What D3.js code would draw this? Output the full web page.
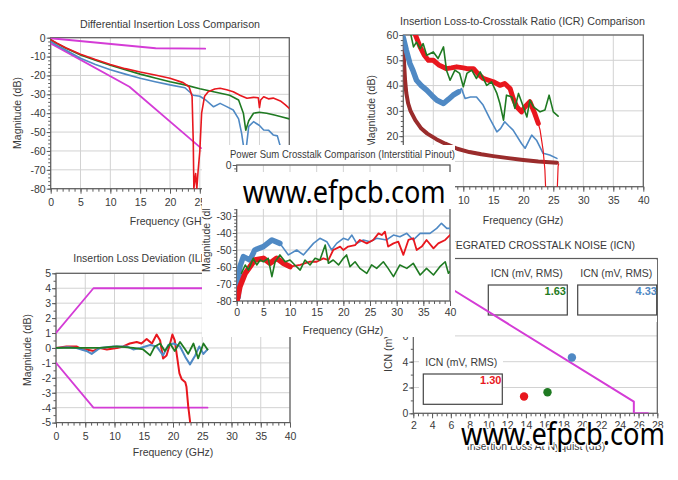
<!DOCTYPE html>
<html><head><meta charset="utf-8">
<script src="https://cdn.jsdelivr.net/npm/d3@7"></script>
<style>body{margin:0;background:#fff}svg{display:block}</style>
</head><body><svg id="c" width="678" height="480"></svg>
<script>
// ---------- DATA ----------
// Differential Insertion Loss (GHz, dB)
const dilRed = [[0,-1],[1,-2.8],[2.5,-5.3],[5,-8.8],[7.5,-11.6],[10,-14.2],[12.5,-16.4],[15,-18.2],[17.5,-19.8],[20,-21.5],[22.2,-23.8],[23.2,-26],[23.7,-31],[23.9,-55],[24.0,-80],[24.3,-72],[24.5,-80],[24.7,-71],[25.0,-60],[25.3,-40],[25.8,-31],[26.4,-28.6],[27.5,-27.2],[28.4,-26.8],[29.5,-27.6],[30.6,-28.6],[31.8,-30.6],[32.9,-32.1],[34,-31.6],[34.8,-31.8],[35,-37],[35.2,-33],[35.7,-31.3],[36.5,-32.4],[37.3,-32],[38.5,-33.5],[39.3,-35.5],[40,-37.4]];
const dilGreen = [[0,-1],[1,-3],[2.5,-5.5],[5,-9.2],[7.5,-12],[10,-14.6],[12.5,-17],[15,-19.3],[17.5,-21.3],[20,-23.3],[22.5,-25],[25,-27],[27.5,-28.8],[30,-30.5],[31.5,-33],[32.3,-40],[32.7,-49],[33.2,-44],[34,-40],[35,-39.5],[36.2,-40],[37.5,-41],[38.8,-42],[40,-43]];
const dilBlue = [[0,-2],[1,-4],[2.5,-6.5],[5,-10.9],[7.5,-14.2],[10,-17],[12.5,-19.3],[15,-21.5],[17.5,-23.3],[20,-25],[22.5,-26.5],[23.9,-30.5],[25,-31],[26,-33],[27.3,-36.6],[28.4,-34.8],[29.5,-36.5],[30.6,-38.3],[31.5,-43],[32,-50.6],[32.4,-59],[32.8,-58],[33.2,-47],[34,-44.5],[35,-46.5],[35.7,-48.9],[36.5,-49],[37.3,-51.5],[38,-52],[38.5,-57.7],[39.3,-62]];
const dilLimitUpper = [[0,-0.3],[17.6,-5.6],[25.9,-5.8]];
const dilLimitLower = [[0,-3],[13.2,-26],[25.2,-58.5]];

// ICR (GHz, dB)
const icrBlueBand = [[0,59],[0.5,54],[1.1,48.7],[1.6,46],[2.2,42.1],[3,40],[3.9,38.2],[4.8,36],[5.6,34.2],[6.7,32.9],[7.5,34.5],[8.3,36.2],[9.2,37.5]];
const icrBlue = [[9.2,37.5],[9.7,38.8],[10.3,34.9],[11.2,35.5],[12.2,35.5],[13.3,32.3],[14.4,27],[15.6,21.7],[16.2,23],[16.9,25.7],[17.6,24],[18.3,22.4],[19.7,17.1],[20.3,15.2],[21.4,20.4],[22.2,18.4],[23.3,13.2],[24.4,12.5],[25.6,11.2]];
const icrRedBand = [[1.7,62],[2.8,55.3],[3.5,52],[4.2,50],[5,50],[6,48],[7.2,46.7],[8,47],[8.9,47.4],[10,47],[10.6,46.7],[11.7,46.7],[12.5,44.5],[13.3,42.8],[15,41.5],[16.1,40.1],[16.9,40.8],[17.8,38.8],[18.3,35],[18.9,31.6],[19.7,29.6],[20.3,31.6],[21.1,33.6],[21.9,29],[22.5,25]];
const icrRed = [[22.5,25],[22.8,22.4],[23.3,14.5],[23.6,6.6],[23.8,-5],[25.6,-5],[25.8,8],[25.9,9]];
const icrGreen = [[1.1,61.9],[1.7,55.3],[2.2,57.2],[2.8,54.6],[3.3,56.6],[3.9,52],[5,53.3],[5.8,50.7],[6.7,55.3],[7.2,46.1],[7.8,42.1],[8.6,46.1],[9.4,44.8],[10,39.5],[10.6,44.8],[11.4,46.1],[12.2,42.8],[12.8,45.4],[13.9,40.1],[14.7,41.5],[15.6,36.9],[16.1,32.9],[16.7,26.3],[17.2,36.2],[18.1,35.5],[18.6,31],[19.2,36.9],[19.7,33.6],[20.6,27.6],[21.1,34.2],[21.7,31.6],[22.8,29.6],[23.6,30.3],[24.3,36.2],[25,29.6],[25.8,27.9]];
const icrLimit = [[0,55.5],[0.15,48],[0.3,42],[0.5,37],[0.8,33],[1.2,30],[2,26.3],[3,23],[4,21],[5.5,18.8],[7,17],[9,15],[11,13.7],[13,12.8],[15,12.1],[17.5,11.3],[20,10.6],[22.5,10],[25.6,9.5]];

// Power Sum Crosstalk (GHz, dB)
const psxtBlueBand = [[0.3,-77.5],[0.6,-59.8],[1.25,-53.9],[2.5,-55.9],[3.4,-50],[5,-48],[6.6,-44.1],[8.1,-46.1]];
const psxtBlue = [[8.1,-46.1],[9.7,-52.9],[11.25,-50],[12.5,-52.9],[14.4,-46.1],[15.6,-43.1],[16.9,-45.1],[17.8,-50],[18.75,-46.1],[20,-43.1],[20.9,-44.1],[21.6,-41.2],[22.5,-46.1],[23.75,-44.1],[25,-45.1],[26.25,-43.1],[28.1,-44.1],[29.4,-41.2],[30.6,-42.2],[31.9,-40.2],[33.1,-44.1],[34.4,-40.2],[36.25,-40.2],[37.5,-37.3],[38.4,-34.3],[39.4,-37.3],[40,-37.3]];
const psxtRedBand = [[0.1,-79.4],[0.6,-71.6],[1.6,-63.7],[2.5,-59.8],[3.4,-55.9],[5,-54.9],[6.25,-57.8],[7.5,-54.9],[8.75,-57.8],[10,-59.8]];
const psxtRed = [[10,-59.8],[11.9,-58.8],[13.75,-56.9],[15,-56.9],[16.25,-54.9],[17.2,-55.9],[18.1,-50],[19.4,-48],[20,-50],[20.9,-48],[22.2,-47.1],[23.1,-44.1],[24.4,-46.1],[25.6,-44.1],[26.6,-40.2],[27.2,-41.2],[27.8,-39.2],[28.4,-48],[29.4,-46.1],[30.3,-45.1],[31.25,-52.9],[32.2,-44.1],[33.1,-43.1],[33.75,-50],[34.7,-48],[35.6,-44.1],[36.9,-49],[37.8,-46.1],[39.1,-44.1],[40,-41.2]];
const psxtGreen = [[0.9,-63.7],[1.6,-58.8],[2.2,-61.8],[3.1,-54.9],[3.75,-58.8],[4.4,-55.9],[5,-56.9],[5.9,-54.9],[6.6,-65.7],[7.2,-56.9],[8.1,-52.9],[9.1,-56.9],[10,-55.9],[10.9,-58.8],[11.9,-61.8],[12.8,-55.9],[13.75,-58.8],[14.7,-54.9],[15.6,-55.9],[16.6,-47.1],[17.2,-57.8],[18.1,-55.9],[19.1,-58.8],[20,-54.9],[20.6,-52.9],[21.25,-59.8],[22.2,-56.9],[23.1,-60.8],[24.4,-63.7],[25.3,-58.8],[26.25,-60.8],[27.5,-56.9],[28.4,-60.8],[29.4,-65.7],[30.6,-58.8],[31.9,-60.8],[33.1,-57.8],[34.4,-64.7],[35.6,-60.8],[36.9,-64.7],[38.1,-59.8],[39.1,-56.9],[39.7,-63.7],[40,-62.7]];

// Insertion Loss Deviation (GHz, dB)
const ildRed = [[0,0],[1.8,0.1],[3.5,0.1],[4.5,-0.1],[5.2,-0.1],[6.4,-0.2],[7.5,0],[8.7,-0.1],[10.4,0],[11.5,0.1],[12.6,0.3],[13.8,0.4],[14.6,0.3],[15.5,0.6],[16.4,0.3],[17.2,0.9],[17.8,0.5],[18.3,-0.7],[18.9,-0.5],[19.5,0.3],[19.9,0.9],[20.3,0.5],[20.7,-0.6],[21.1,-1.7],[21.5,-2.1],[22.1,-2.3],[22.3,-2.6],[22.6,-3.9],[23,-5.2],[23.1,-6]];
const ildBlue = [[0,0],[2,0.05],[3.5,0],[5.2,-0.2],[6.1,-0.4],[7.5,0],[9.8,0.1],[12.1,0.1],[13.2,-0.1],[14.4,0],[16.1,0.2],[17.2,0.1],[18.3,-0.5],[19.2,0.2],[20.1,0.3],[21.2,0.1],[22.1,-0.6],[22.9,-1.1],[23.8,-0.5],[24.5,0.1],[25.2,-0.4],[25.9,-0.1]];
const ildGreen = [[0,0],[4.1,0],[7.5,0],[10.4,0.1],[13.2,0],[14.9,-0.1],[16.1,-0.5],[16.9,0.1],[17.8,0.3],[18.6,-0.2],[19.5,0.3],[20.3,-0.2],[21.2,0.4],[22.1,-0.1],[22.6,-0.4],[23.5,0.3],[24.3,-0.7],[25.2,0.3],[25.9,-0.1]];
const ildLimitUpper = [[0,1],[6.4,4],[25.9,4]];
const ildLimitLower = [[0,-1],[6.4,-4],[25.9,-4]];

// Integrated Crosstalk Noise
const icnIL = [13.8, 16.3, 18.9];
const icnValue = [1.30, 1.63, 4.33];
const icnLabels = ["1.30", "1.63", "4.33"];
const icnLimit = [[6.4,9.5],[25.5,0.9],[25.5,0],[27,0]];

// Ticks
const ticks0to40 = d3.range(0, 41, 5);
const ticks0to40Minor = d3.range(0, 41, 1);

// ---------- DRAW ----------
const FONT = '"Liberation Sans", Arial, sans-serif';
const C = {red:"#e8171e", green:"#1f7a22", blue:"#4f89c4", mag:"#d43cd6", maroon:"#9a2c2c",
           grid:"#d2d2d2", frame:"#5c5c5c", text:"#3a3a3a"};
const svg = d3.select("#c");
let clipN = 0;

function txt(g, x, y, s, o = {}) {
  const t = g.append("text").attr("x", x).attr("y", y).text(s)
    .attr("font-family", o.family || FONT).attr("font-size", o.size || 10.5)
    .attr("fill", o.fill || C.text).attr("text-anchor", o.anchor || "middle");
  if (o.weight) t.attr("font-weight", o.weight);
  if (o.rotate) t.attr("transform", `rotate(-90,${x},${y})`).attr("dy", "0.35em");
  if (o.len) t.attr("textLength", o.len).attr("lengthAdjust", "spacingAndGlyphs");
  return t;
}

function panel(o) {
  const g = svg.append("g");
  const [xa, xb] = o.x.range(), [yb, ya] = o.y.range();
  const id = "clip" + (++clipN);
  svg.append("clipPath").attr("id", id).append("rect")
    .attr("x", xa).attr("y", ya).attr("width", xb - xa).attr("height", yb - ya);
  if (o.vgrid !== false)
    g.append("g").selectAll("line").data(o.xMajor).join("line")
      .attr("x1", d => o.x(d)).attr("x2", d => o.x(d)).attr("y1", ya).attr("y2", yb)
      .attr("stroke", C.grid).attr("stroke-width", 1);
  g.append("g").selectAll("line").data(o.yMajor).join("line")
    .attr("y1", d => o.y(d)).attr("y2", d => o.y(d)).attr("x1", xa).attr("x2", xb)
    .attr("stroke", C.grid).attr("stroke-width", 1);
  const ax = (gen, tr) => {
    const a = g.append("g").attr("transform", tr).call(gen);
    a.attr("font-size", null).attr("font-family", null);
    a.select(".domain").remove();
    a.selectAll("line").attr("stroke", C.frame);
    a.selectAll("text").attr("fill", C.text).attr("font-size", 10.5).attr("font-family", FONT);
    return a;
  };
  ax(d3.axisBottom(o.x).tickValues(o.xMinor).tickSize(3).tickFormat(""), `translate(0,${yb})`);
  ax(d3.axisBottom(o.x).tickValues(o.xMajor).tickSize(5).tickPadding(o.xPad ?? 5).tickFormat(d => String(d)), `translate(0,${yb})`);
  ax(d3.axisLeft(o.y).tickValues(o.yMinor).tickSize(2.5).tickFormat(""), `translate(${xa},0)`);
  ax(d3.axisLeft(o.y).tickValues(o.yMajor).tickSize(4).tickPadding(1).tickFormat(d => String(d)), `translate(${xa},0)`);
  g.append("rect").attr("x", xa).attr("y", ya).attr("width", xb - xa).attr("height", yb - ya)
    .attr("fill", "none").attr("stroke", C.frame).attr("stroke-width", 1.2);
  if (o.title) txt(g, o.title[0], o.title[1], o.title[2], o.title[3] || {});
  if (o.xlabel) txt(g, o.xlabel[0], o.xlabel[1], o.xlabel[2]);
  if (o.ylabel) txt(g, o.ylabel[0], o.ylabel[1], o.ylabel[2], {rotate: true});
  return {g, clip: `url(#${id})`, x: o.x, y: o.y};
}

function plot(p, data, color, w) {
  p.g.append("path").datum(data).attr("clip-path", p.clip)
    .attr("d", d3.line().x(d => p.x(d[0])).y(d => p.y(d[1])))
    .attr("fill", "none").attr("stroke", color).attr("stroke-width", w)
    .attr("stroke-linejoin", "round").attr("stroke-linecap", "round");
}

// Panel 1: Differential Insertion Loss
const p1 = panel({
  x: d3.scaleLinear().domain([0, 40]).range([50.7, 289.3]),
  y: d3.scaleLinear().domain([-80, 0]).range([188.7, 37.7]),
  xMajor: ticks0to40, xMinor: ticks0to40Minor,
  yMajor: d3.range(-80, 1, 10), yMinor: d3.range(-80, 1, 2),
  title: [170, 28, "Differential Insertion Loss Comparison", {len: 180}],
  xlabel: [170, 225, "Frequency (GHz)"],
  ylabel: [17, 113, "Magnitude (dB)"]
});
plot(p1, dilLimitUpper, C.mag, 1.8);
plot(p1, dilLimitLower, C.mag, 1.8);
plot(p1, dilBlue, C.blue, 1.6);
plot(p1, dilGreen, C.green, 1.6);
plot(p1, dilRed, C.red, 1.6);

// Panel 2: ICR
const p2 = panel({
  x: d3.scaleLinear().domain([0, 40]).range([403.3, 643.3]),
  y: d3.scaleLinear().domain([0, 60]).range([186.7, 35]),
  xMajor: ticks0to40, xMinor: ticks0to40Minor,
  yMajor: d3.range(0, 61, 10), yMinor: d3.range(0, 61, 2),
  title: [522.5, 25, "Insertion Loss-to-Crosstalk Ratio (ICR) Comparison", {len: 245}],
  xlabel: [523, 224, "Frequency (GHz)"],
  ylabel: [371.7, 111, "Magnitude (dB)"]
});
plot(p2, icrLimit, C.maroon, 4);
plot(p2, icrBlueBand, C.blue, 5.5);
plot(p2, icrBlue, C.blue, 1.6);
plot(p2, icrRedBand, C.red, 5);
plot(p2, icrRed, C.red, 1.2);
plot(p2, icrGreen, C.green, 1.6);

// Panel 4: ILD
const p4 = panel({
  x: d3.scaleLinear().domain([0, 40]).range([56, 290]),
  y: d3.scaleLinear().domain([-5, 5]).range([422.6, 273.3]),
  xMajor: ticks0to40, xMinor: ticks0to40Minor,
  yMajor: d3.range(-5, 6, 1), yMinor: d3.range(-5, 5.01, 0.5),
  title: [73.3, 262, "Insertion Loss Deviation (ILD) Comparison", {anchor: "start"}],
  xlabel: [173, 456, "Frequency (GHz)"],
  ylabel: [27, 350, "Magnitude (dB)"]
});
plot(p4, ildLimitUpper, C.mag, 1.8);
plot(p4, ildLimitLower, C.mag, 1.8);
plot(p4, ildRed, C.red, 2);
plot(p4, ildBlue, C.blue, 2);
plot(p4, ildGreen, C.green, 1.8);

// Panel 5: ICN
const p5 = panel({
  x: d3.scaleLinear().domain([2, 28]).range([413.3, 657.3]),
  y: d3.scaleLinear().domain([0, 12]).range([413.3, 258.5]),
  xMajor: d3.range(2, 29, 2), xMinor: d3.range(2, 28.01, 0.5),
  yMajor: d3.range(0, 13, 2), yMinor: d3.range(0, 13, 1),
  vgrid: false, xPad: 3,
  title: [635, 249, "INTEGRATED CROSSTALK NOISE (ICN)", {anchor: "end"}],
  xlabel: [536, 450, "Insertion Loss At Nyquist (dB)"],
  ylabel: [388, 336, "ICN (mV, RMS)"]
});
// legend background and boxes
p5.g.append("rect").attr("x", 455).attr("y", 260).attr("width", 202).attr("height", 62).attr("fill", "#fff");
p5.g.append("rect").attr("x", 419).attr("y", 352).attr("width", 84).attr("height", 56).attr("fill", "#fff");
const boxes = [[488.3, 285, 79, 30], [577.7, 285, 79, 30], [423.3, 374, 79, 30.3]];
p5.g.selectAll(null).data(boxes).join("rect")
  .attr("x", d => d[0]).attr("y", d => d[1]).attr("width", d => d[2]).attr("height", d => d[3])
  .attr("fill", "#fff").attr("stroke", "#444").attr("stroke-width", 1.2);
plot(p5, icnLimit, C.mag, 2);
const icnColors = [C.red, C.green, C.blue];
p5.g.append("g").attr("clip-path", p5.clip).selectAll(null).data(icnIL).join("circle")
  .attr("cx", d => p5.x(d)).attr("cy", (d, i) => p5.y(icnValue[i])).attr("r", 4.2)
  .attr("fill", (d, i) => icnColors[i]);
txt(p5.g, 526.7, 277, "ICN (mV, RMS)");
txt(p5.g, 616.3, 277, "ICN (mV, RMS)");
txt(p5.g, 461.3, 366, "ICN (mV, RMS)");
const valPos = [[501.5, 384], [566, 294.5], [657, 294.5]];
icnLabels.forEach((s, i) => txt(p5.g, valPos[i][0], valPos[i][1], s,
  {anchor: "end", weight: "bold", fill: icnColors[i], size: 11}));

// Panel 3: Power Sum Crosstalk (overlay)
svg.append("rect").attr("x", 202).attr("y", 145).attr("width", 253).attr("height", 192).attr("fill", "#fff");
const p3 = panel({
  x: d3.scaleLinear().domain([0, 40]).range([236.7, 450]),
  y: d3.scaleLinear().domain([-80, 0]).range([301, 165]),
  xMajor: ticks0to40, xMinor: ticks0to40Minor,
  yMajor: d3.range(-80, 1, 10), yMinor: d3.range(-80, 1, 2),
  xPad: 3,
  title: [342.5, 157.5, "Power Sum Crosstalk Comparison (Interstitial Pinout)", {len: 225}],
  xlabel: [343, 334, "Frequency (GHz)"],
  ylabel: [206, 236, "Magnitude (dB)"]
});
plot(p3, psxtBlueBand, C.blue, 5.5);
plot(p3, psxtBlue, C.blue, 1.6);
plot(p3, psxtRedBand, C.red, 5.5);
plot(p3, psxtRed, C.red, 1.8);
plot(p3, psxtGreen, C.green, 1.6);

// Watermarks
svg.append("rect").attr("x", 202).attr("y", 172).attr("width", 253).attr("height", 37).attr("fill", "#fff");
txt(svg, 242.7, 203.3, "www.efpcb.com", {anchor: "start", size: 31, fill: "#000", family: '"Noto Sans", "Open Sans", sans-serif', len: 203});
txt(svg, 461, 445, "www.efpcb.com", {anchor: "start", size: 31, fill: "#000", family: '"Noto Sans", "Open Sans", sans-serif', len: 204})
  .attr("stroke", "#fff").attr("stroke-width", 3).attr("paint-order", "stroke");
</script></body></html>
